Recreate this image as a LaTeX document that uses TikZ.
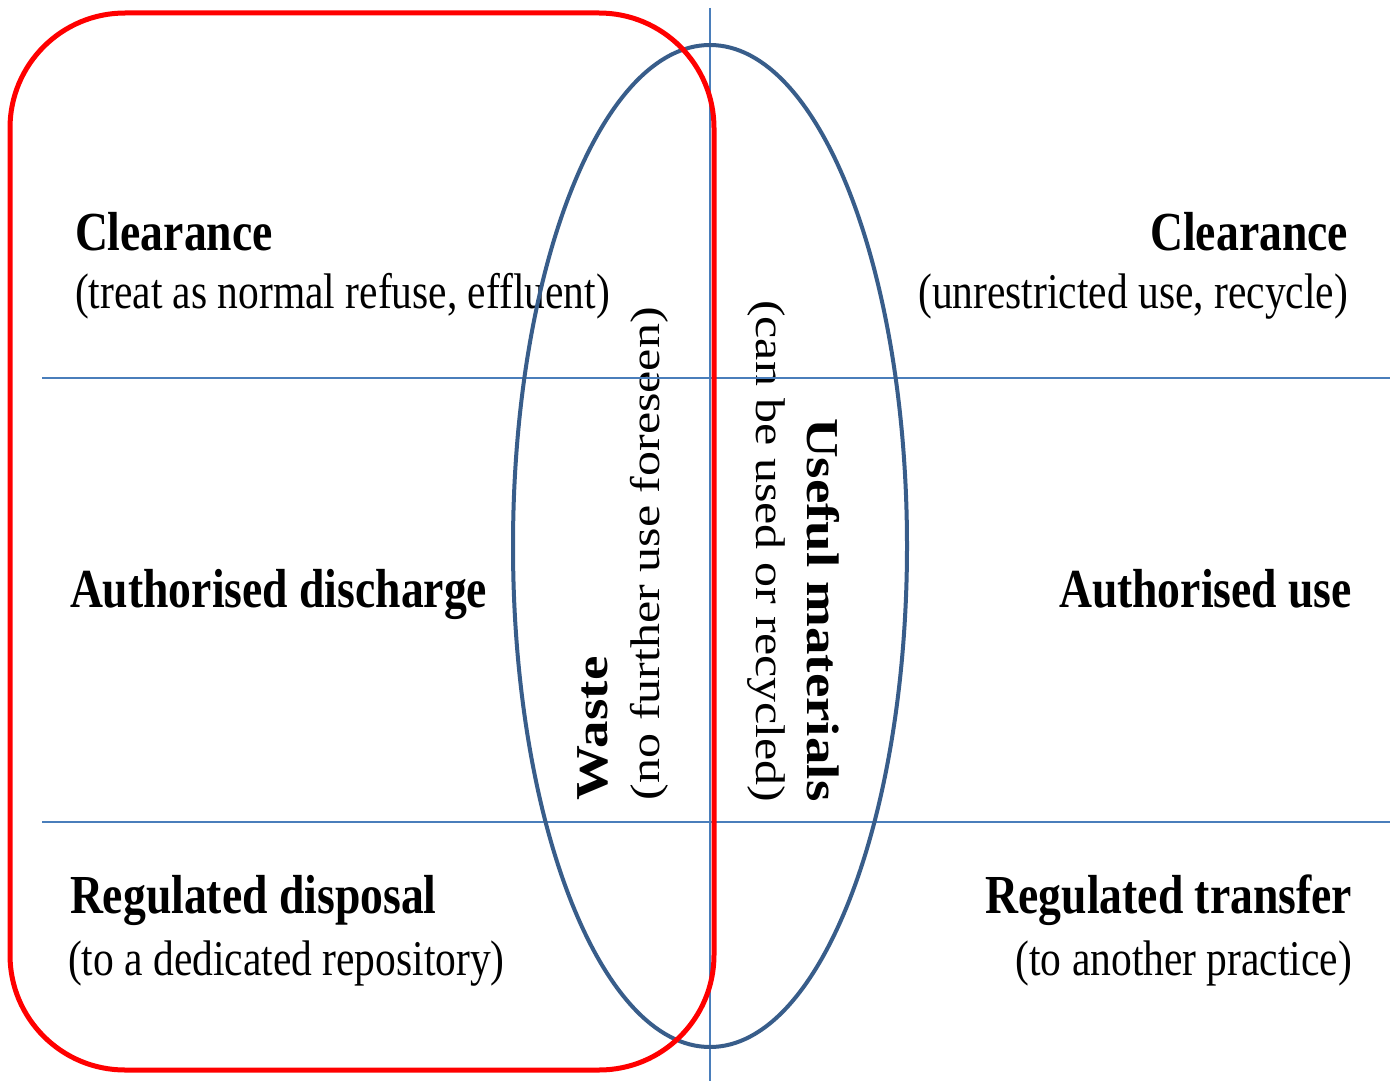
\documentclass[tikz,border=0pt]{standalone}
\usepackage{fontspec}
\setmainfont{Liberation Serif}
\usetikzlibrary{calc}
\definecolor{gridblue}{RGB}{74,126,187}
\definecolor{ovalblue}{RGB}{56,93,138}
\definecolor{boxred}{RGB}{255,0,0}
\newcommand{\headfont}{\fontsize{55}{60}\selectfont\bfseries}
\newcommand{\notefont}{\fontsize{50}{56}\selectfont}
% horizontal labels are set narrower, vertical labels thinner
\newcommand{\hlab}[1]{\scalebox{0.83}[1]{#1}}
\newcommand{\vlab}[1]{\scalebox{1}[0.83]{#1}}
\begin{document}
\begin{tikzpicture}[x=1pt,y=-1pt,
  lab/.style={inner sep=0pt, outer sep=0pt, text=black},
  gridline/.style={draw=gridblue, line width=1.8pt},
  oval/.style={draw=ovalblue, line width=4pt},
  frame/.style={draw=boxred, line width=5pt, rounded corners=115pt}]
\useasboundingbox (0,0) rectangle (1392,1081);
\fill[white] (0,0) rectangle (1392,1081);

% left column
\node[lab, anchor=base west] (clL) at (75,250) {\hlab{\headfont Clearance}};
\node[lab, anchor=base west] (clLn) at (75,308) {\hlab{\notefont (treat\hspace{0.25em}as normal refuse, effluent)}};
\node[lab, anchor=base west] (adL) at (70,607) {\hlab{\headfont Authorised discharge}};
\node[lab, anchor=base west] (rdL) at (70,913) {\hlab{\headfont Regulated disposal}};
\node[lab, anchor=base west] (rdLn) at (68,975) {\hlab{\notefont (to a dedicated repository)}};

% right column
\node[lab, anchor=base east] (clR) at (1348,250) {\hlab{\headfont Clearance}};
\node[lab, anchor=base east] (clRn) at (1348,308) {\hlab{\notefont (unrestricted use, recycle)}};
\node[lab, anchor=base east] (auR) at (1352,607) {\hlab{\headfont Authorised use}};
\node[lab, anchor=base east] (rtR) at (1352,913) {\hlab{\headfont Regulated transfer}};
\node[lab, anchor=base east] (rtRn) at (1352,975) {\hlab{\notefont (to another practice)}};

% vertical labels in the middle
\node[lab, rotate=90, anchor=base west] (waste) at (607,800) {\vlab{\headfont Waste}};
\node[lab, rotate=90, anchor=base west] (wasten) at (659,800) {\vlab{\notefont (no further use foreseen)}};
\node[lab, rotate=-90, anchor=base west] (useful) at (807,418) {\vlab{\headfont Useful materials}};
\node[lab, rotate=-90, anchor=base west] (usefuln) at (756,300) {\vlab{\notefont (can be used or recycled)}};

% grid lines
\coordinate (vtop) at (710,8);
\coordinate (vbot) at (710,1081);
\coordinate (h1l) at (42,378);
\coordinate (h1r) at (1390,378);
\coordinate (h2l) at (42,822);
\coordinate (h2r) at (1390,822);
\draw[gridline] (vtop) -- (vbot);
\draw[gridline] (h1l) -- (h1r);
\draw[gridline] (h2l) -- (h2r);

% oval around the middle column
\draw[oval] (710,546) ellipse [x radius=197, y radius=501];

% frame round the waste side
\draw[frame] (10,13) rectangle (714,1070);
\end{tikzpicture}
\end{document}
